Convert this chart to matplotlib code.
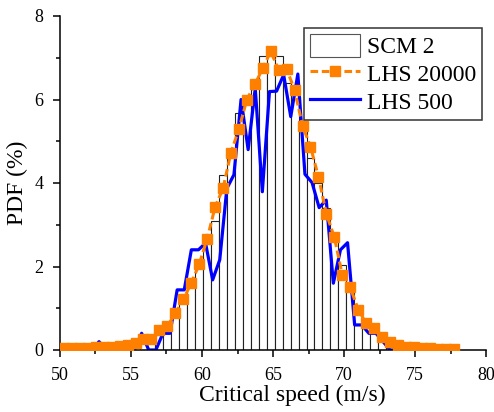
import numpy as np
import matplotlib
matplotlib.use("Agg")
import matplotlib.pyplot as plt
from matplotlib.ticker import MultipleLocator

plt.rcParams['font.family'] = ['Liberation Serif', 'DejaVu Serif']

# histogram bins: 50 bins of 0.56 m/s between 50 and 78
bin_width = 0.56
bin_centers = 50 + bin_width / 2 + bin_width * np.arange(50)

scm2 = [0.02, 0.02, 0.03, 0.03, 0.04, 0.05, 0.06, 0.08, 0.10, 0.12,
        0.18, 0.25, 0.35, 0.40, 0.96, 1.32, 1.72, 2.05, 2.57, 3.10,
        4.19, 4.75, 5.67, 6.00, 6.45, 7.05, 7.07, 7.05, 6.40, 6.10,
        5.30, 4.60, 4.00, 3.39, 2.63, 2.04, 1.60, 0.96, 0.60, 0.40,
        0.24, 0.15, 0.10, 0.07, 0.05, 0.04, 0.03, 0.02, 0.02, 0.01]

lhs20000 = [0.04, 0.04, 0.05, 0.05, 0.06, 0.07, 0.08, 0.10, 0.12, 0.16,
            0.26, 0.26, 0.48, 0.57, 0.88, 1.21, 1.60, 2.05, 2.66, 3.42,
            3.87, 4.73, 5.29, 6.00, 6.36, 6.75, 7.15, 6.71, 6.73, 6.23,
            5.37, 4.87, 4.15, 3.26, 2.70, 1.80, 1.50, 0.97, 0.64, 0.52,
            0.30, 0.20, 0.12, 0.08, 0.06, 0.05, 0.04, 0.03, 0.03, 0.02]

# LHS 500 uses 0.5 m/s bins
lhs500_x = 50.25 + 0.5 * np.arange(56)
lhs500 = [0, 0, 0, 0, 0, 0.2, 0, 0, 0, 0,
          0, 0.4, 0, 0, 0.4, 0.4, 1.44, 1.44, 2.4, 2.4,
          2.56, 1.68, 2.16, 3.87, 4.2, 6.0, 4.8, 6.27, 3.79, 6.19,
          6.2, 6.59, 5.59, 6.61, 4.21, 4.01, 3.41, 3.59, 1.6, 2.4,
          2.57, 0.6, 0.6, 0.4, 0.4, 0.2, 0, 0, 0, 0,
          0, 0, 0, 0, 0, 0]

fig = plt.figure(figsize=(4.94, 4.12), dpi=100)
ax = fig.add_axes([60 / 494, 1 - 350 / 412, 426 / 494, 334 / 412])

bars = ax.bar(bin_centers, scm2, width=bin_width, color='white',
              edgecolor='#222222', linewidth=0.8, label='SCM 2', zorder=1)
l500, = ax.plot(lhs500_x, lhs500, color='#0000FF', lw=2.3, label='LHS 500', zorder=2)
l20k, = ax.plot(bin_centers, lhs20000, color='#FF8000', lw=2.2, ls=(0, (2.5, 1.2)),
                marker='s', ms=7, mec='#FF8000', label='LHS 20000', zorder=3)

ax.set_xlim(50, 80)
ax.set_ylim(0, 8)
ax.xaxis.set_major_locator(MultipleLocator(5))
ax.xaxis.set_minor_locator(MultipleLocator(2.5))
ax.yaxis.set_major_locator(MultipleLocator(2))
ax.yaxis.set_minor_locator(MultipleLocator(1))
ax.tick_params(which='major', direction='out', length=5, width=1.1, labelsize=13, pad=7)
ax.tick_params(which='minor', direction='out', length=3, width=1.1)
for side in ['top', 'right']:
    ax.spines[side].set_visible(False)
for side in ['left', 'bottom']:
    ax.spines[side].set_linewidth(1.1)

ax.set_xlabel('Critical speed (m/s)', fontsize=17)
ax.set_ylabel('PDF (%)', fontsize=17)
ax.xaxis.set_label_coords(0.546, -0.105)
ax.yaxis.set_label_coords(-0.075, 0.5)

leg = ax.legend([bars, l20k, l500], ['SCM 2', 'LHS 20000', 'LHS 500'],
                loc='upper right', bbox_to_anchor=(482 / 494, 1 - 28 / 412),
                bbox_transform=fig.transFigure, borderaxespad=0, fontsize=17,
                frameon=True, fancybox=False, edgecolor='black',
                handlelength=2.1, handleheight=1.1, labelspacing=0.15,
                handletextpad=0.3, borderpad=0.25)
leg.get_frame().set_linewidth(1.1)
leg.legend_handles[0].set_edgecolor('#555555')

fig.savefig('out.png', dpi=100)
